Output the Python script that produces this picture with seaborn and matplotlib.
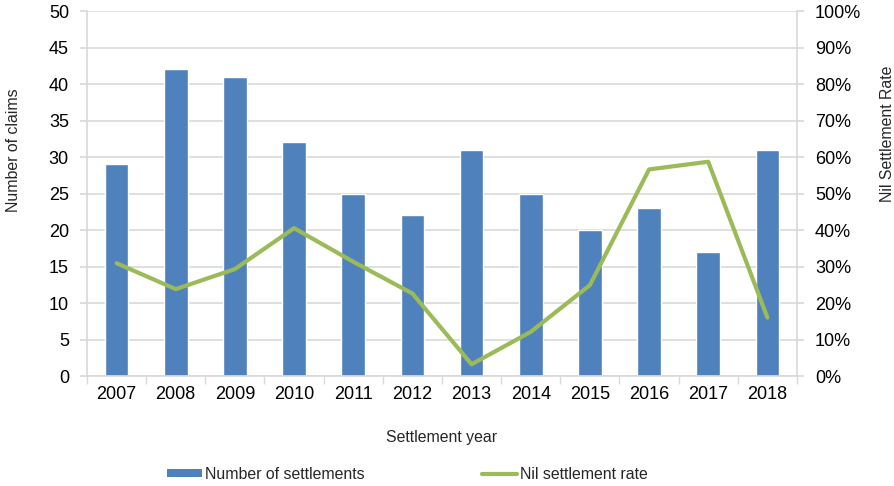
import numpy as np
import pandas as pd
import matplotlib
matplotlib.use("Agg")
import matplotlib.pyplot as plt
from matplotlib.ticker import FuncFormatter, FixedLocator
from matplotlib.patches import Patch
from matplotlib.lines import Line2D
import seaborn as sns

years = ["2007", "2008", "2009", "2010", "2011", "2012", "2013", "2014", "2015", "2016", "2017", "2018"]
settlements = [29, 42, 41, 32, 25, 22, 31, 25, 20, 23, 17, 31]
nil_rate = [0.309, 0.238, 0.293, 0.405, 0.313, 0.226, 0.032, 0.121, 0.249, 0.566, 0.587, 0.160]

bar_color = "#4F81BD"
line_color = "#9BBB59"
grid_color = "#D9D9D9"

TICK_FS = 13
LABEL_FS = 11.4

sns.set_theme(style="white")
plt.rcParams['font.family'] = ['Liberation Sans', 'DejaVu Sans']

df = pd.DataFrame({"year": years, "settlements": settlements, "rate": nil_rate})
df["pos"] = np.arange(len(df))

fig = plt.figure(figsize=(8.95, 4.86), dpi=100)
L, R, T, B = 87, 797, 11, 376
ax = fig.add_axes([L/895, 1-B/486, (R-L)/895, (B-T)/486])

sns.barplot(data=df, x="year", y="settlements", color=bar_color, width=0.40,
            saturation=1, ax=ax, zorder=2)
ax.set_ylim(0, 50)
ax.set_yticks(np.arange(0, 51, 5))
ax.set_xlim(-0.5, len(years) - 0.5)
ax.yaxis.grid(True, color=grid_color, linewidth=1.2, zorder=0)
ax.set_axisbelow(True)
ax.set_ylabel("Number of claims", fontsize=LABEL_FS)
ax.yaxis.set_label_coords((21 - L) / (R - L), (B - 150) / (B - T))
ax.set_xlabel("Settlement year", fontsize=LABEL_FS)
ax.xaxis.set_label_coords(0.5, (B - 430) / (B - T))

ax2 = ax.twinx()
sns.lineplot(data=df, x="pos", y="rate", color=line_color, linewidth=3, ax=ax2,
             legend=False, zorder=3)
ax2.set_ylim(0, 1)
ax2.set_yticks(np.arange(0, 1.01, 0.1))
ax2.yaxis.set_major_formatter(FuncFormatter(lambda v, p: f"{v*100:.0f}%"))
ax2.set_xlim(-0.5, len(years) - 0.5)
ax2.set_ylabel("Nil Settlement Rate", fontsize=LABEL_FS)
ax2.yaxis.set_label_coords((880 - L) / (R - L), (B - 133.5) / (B - T))
ax2.set_xlabel("")

for a in (ax, ax2):
    for s in a.spines.values():
        s.set_visible(False)
ax.spines["left"].set_visible(True)
ax.spines["left"].set_color(grid_color)
ax.spines["bottom"].set_visible(True)
ax.spines["bottom"].set_color(grid_color)
ax2.spines["right"].set_visible(True)
ax2.spines["right"].set_color(grid_color)

ax.tick_params(axis="y", which="major", length=5, color=grid_color, labelcolor="black",
               labelsize=TICK_FS, pad=8, left=True)
ax2.tick_params(axis="y", which="major", length=5, color=grid_color, labelsize=TICK_FS,
                pad=8, right=True, labelcolor="black")
ax.tick_params(axis="x", which="major", length=0, labelsize=TICK_FS, pad=7.5, labelcolor="black")
ax.xaxis.set_minor_locator(FixedLocator(np.arange(-0.5, len(years), 1.0)))
ax.tick_params(axis="x", which="minor", length=6, color=grid_color, bottom=True)

handles = [Patch(facecolor=bar_color, edgecolor="none", label="Number of settlements"),
           Line2D([0], [0], color=line_color, linewidth=3, label="Nil settlement rate")]
fig.legend(handles=handles, loc="center left", bbox_to_anchor=(167/895, 1-474/486), ncol=2,
           frameon=False, fontsize=LABEL_FS, columnspacing=7.4, handlelength=2.2,
           handletextpad=0.2, handleheight=0.45, borderpad=0, borderaxespad=0)

fig.savefig("out.png", dpi=100)
